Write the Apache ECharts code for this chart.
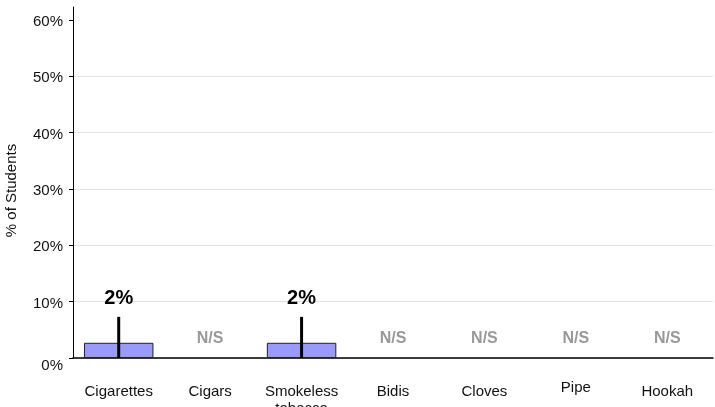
<!DOCTYPE html>
<html>
<head>
<meta charset="utf-8">
<script src="https://cdn.jsdelivr.net/npm/echarts@6/dist/echarts.min.js"></script>
<style>html,body{margin:0;padding:0;background:#fff}#c{width:715px;height:407px}</style>
</head>
<body>
<div id="c"></div>
<script>
var categories = ['Cigarettes', 'Cigars', 'Smokeless\ntobacco', 'Bidis', 'Cloves', 'Pipe', 'Hookah'];
var values = [2.7, null, 2.7, null, null, null, null];
var ciUpper = [7.3, null, 7.3, null, null, null, null];
var valueLabels = ['2%', 'N/S', '2%', 'N/S', 'N/S', 'N/S', 'N/S'];
var yTicks = [0, 10, 20, 30, 40, 50, 60];

var chart = echarts.init(document.getElementById('c'), null, {renderer: 'canvas'});
var font = 'Liberation Sans, Arial, sans-serif';

var catData = categories.map(function (c) {
  return c === 'Pipe' ? {value: c, textStyle: {lineHeight: 9}} : c;
});

chart.setOption({
  animation: false,
  grid: {left: 73, right: 2, top: 7, bottom: 49, containLabel: false, outerBoundsMode: 'none'},
  xAxis: {
    type: 'category',
    data: catData,
    axisLine: {show: true, lineStyle: {color: '#000', width: 1.5}},
    axisTick: {show: false},
    axisLabel: {color: '#111', fontFamily: font, fontSize: 15, margin: 25, lineHeight: 17, interval: 0}
  },
  yAxis: {
    type: 'value',
    min: 0, max: 62.3, interval: 10,
    name: '% of Students',
    nameLocation: 'middle',
    nameGap: 54,
    nameTextStyle: {color: '#111', fontFamily: font, fontSize: 15, padding: [0, 16, 0, 0]},
    axisLine: {show: true, lineStyle: {color: '#000', width: 1}},
    axisTick: {show: true, length: 4, lineStyle: {color: '#000'}, customValues: yTicks},
    axisLabel: {color: '#111', fontFamily: font, fontSize: 15, margin: 10, customValues: yTicks,
      formatter: function (v) { return v === 0 ? '{z|0%}' : '{a|' + v + '%}'; },
      rich: {
        a: {fontFamily: font, fontSize: 15, color: '#111', padding: [4, 0, 0, 0]},
        z: {fontFamily: font, fontSize: 15, color: '#111', padding: [16, 0, 0, 0]}
      }},
    splitLine: {show: true, showMaxLine: false, lineStyle: {color: '#e2e2e2', width: 1}}
  },
  series: [
    {
      type: 'bar',
      data: values,
      barWidth: '76%',
      itemStyle: {color: '#9a9afa', borderColor: '#222', borderWidth: 1}
    },
    {
      type: 'custom',
      data: categories.map(function (c, i) { return [i, values[i], ciUpper[i]]; }),
      renderItem: function (params, api) {
        var i = api.value(0);
        var v = values[i];
        var children = [];
        if (v == null) {
          var p = api.coord([i, 0]);
          children.push({
            type: 'text',
            style: {x: p[0], y: p[1] - 19, text: valueLabels[i], fill: '#999', font: 'bold 16px ' + font, align: 'center', verticalAlign: 'middle'}
          });
        } else {
          var p0 = api.coord([i, 0]);
          var p1 = api.coord([i, ciUpper[i]]);
          children.push({
            type: 'line',
            shape: {x1: p0[0], y1: p0[1], x2: p1[0], y2: p1[1]},
            style: {stroke: '#000', lineWidth: 3}
          });
          children.push({
            type: 'text',
            style: {x: p1[0], y: p1[1] - 18, text: valueLabels[i], fill: '#000', font: 'bold 20px ' + font, align: 'center', verticalAlign: 'middle'}
          });
        }
        return {type: 'group', children: children};
      },
      z: 5
    }
  ]
});
</script>
</body>
</html>
